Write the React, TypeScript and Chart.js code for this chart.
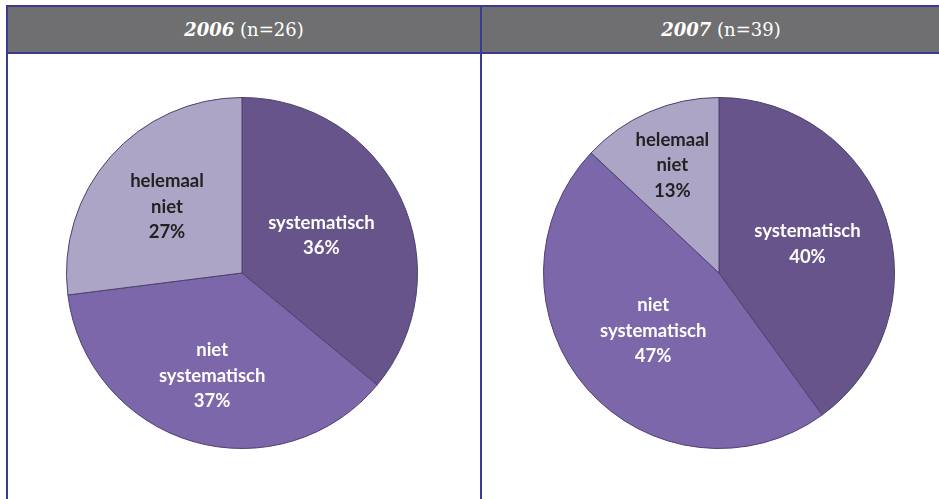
import React, { useEffect, useRef } from "react";
import { Chart, registerables } from "chart.js";

Chart.register(...registerables);

const categories = ["systematisch", "niet systematisch", "helemaal niet"];
const labelLines = [["systematisch"], ["niet", "systematisch"], ["helemaal", "niet"]];
const years = ["2006", "2007"];
const sampleSizes = ["n=26", "n=39"];
const values2006 = [36, 37, 27];
const values2007 = [40, 47, 13];

const sliceColors = ["#67548A", "#7B67A9", "#ADA5C6"];
const textColors = ["#FFFFFF", "#FFFFFF", "#222222"];
const BORDER = "#3B3B8F";

const labelPlugin = {
  id: "sliceLabels",
  afterDatasetsDraw(chart: any, _args: any, opts: any) {
    const ctx = chart.ctx;
    const meta = chart.getDatasetMeta(0);
    const data = chart.data.datasets[0].data as number[];
    const fracs: number[] = opts.radiusFractions || [];
    meta.data.forEach((arc: any, i: number) => {
      const p = arc.getProps(["x", "y", "startAngle", "endAngle", "outerRadius"], true);
      const mid = (p.startAngle + p.endAngle) / 2;
      const r = p.outerRadius * (fracs[i] ?? 0.58);
      const cx = p.x + Math.cos(mid) * r;
      const cy = p.y + Math.sin(mid) * r;
      const lines = [...labelLines[i], data[i] + "%"];
      const lh = 25.5;
      ctx.save();
      ctx.font = "bold 18.5px Lato, 'Open Sans', sans-serif";
      ctx.fillStyle = textColors[i];
      ctx.textAlign = "center";
      ctx.textBaseline = "middle";
      lines.forEach((t, k) => {
        ctx.fillText(t, cx, cy + (k - (lines.length - 1) / 2) * lh);
      });
      ctx.restore();
    });
  },
};

function Pie({ values, fracs }: { values: number[]; fracs: number[] }) {
  const ref = useRef<HTMLCanvasElement>(null);
  useEffect(() => {
    const chart = new Chart(ref.current!, {
      type: "pie",
      data: {
        labels: categories,
        datasets: [
          {
            data: values,
            backgroundColor: sliceColors,
            borderColor: "#4E4070",
            borderWidth: 1,
          },
        ],
      },
      options: {
        animation: false,
        responsive: false,
        maintainAspectRatio: false,
        layout: { padding: 2 },
        plugins: {
          legend: { display: false },
          tooltip: { enabled: false },
          sliceLabels: { radiusFractions: fracs },
        } as any,
      },
      plugins: [labelPlugin],
    });
    return () => chart.destroy();
  }, []);
  return <canvas ref={ref} width={356} height={356} style={{ display: "block" }} />;
}

function Panel({ idx, left, width, cx, values, fracs }: any) {
  return (
    <div
      style={{
        position: "absolute",
        left,
        top: 5,
        width,
        height: 520,
        borderLeft: `2px solid ${BORDER}`,
        borderTop: `2px solid ${BORDER}`,
        boxSizing: "border-box",
      }}
    >
      <div
        style={{
          height: 47,
          background: "#6F6F71",
          borderBottom: `2px solid ${BORDER}`,
          color: "#FFFFFF",
          display: "flex",
          alignItems: "center",
          justifyContent: "center",
          fontFamily: "'DejaVu Serif', serif",
          fontSize: 18,
          boxSizing: "border-box",
        }}
      >
        <span style={{ fontWeight: "bold", fontStyle: "italic" }}>{years[idx]}</span>
        <span style={{ fontWeight: 300 }}>&nbsp;({sampleSizes[idx]})</span>
      </div>
      <div style={{ position: "absolute", left: cx - left - 178 - 2, top: 273 - 5 - 178 - 2 }}>
        <Pie values={values} fracs={fracs} />
      </div>
    </div>
  );
}

export default function App() {
  return (
    <div
      style={{
        position: "fixed",
        left: 0,
        top: 0,
        width: 939,
        height: 499,
        overflow: "hidden",
        background: "#FFFFFF",
      }}
    >
      <Panel idx={0} left={6} width={474} cx={242} values={values2006} fracs={[0.5, 0.61, 0.57]} />
      <Panel idx={1} left={480} width={480} cx={719} values={values2007} fracs={[0.53, 0.5, 0.67]} />
    </div>
  );
}
